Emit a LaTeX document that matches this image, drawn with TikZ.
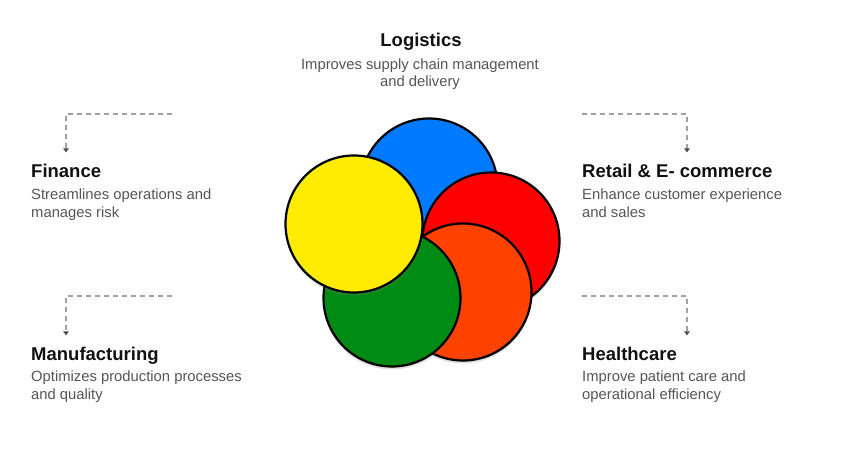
\documentclass[tikz,border=0pt]{standalone}
\usepackage{fontspec}
\setmainfont{Liberation Sans}
\usepackage{xcolor}
\usetikzlibrary{arrows.meta,positioning,shadows}

\definecolor{petalblue}{RGB}{0,122,255}
\definecolor{petalred}{RGB}{255,0,0}
\definecolor{petalorange}{RGB}{255,66,0}
\definecolor{petalgreen}{RGB}{0,140,20}
\definecolor{petalyellow}{RGB}{255,236,0}
\definecolor{headtext}{RGB}{17,17,17}
\definecolor{bodytext}{RGB}{85,85,85}
\definecolor{dashgray}{RGB}{160,160,160}

\begin{document}
\begin{tikzpicture}[x=1pt, y=1pt,
petal/.style={circle, draw=black, line width=2.2pt, minimum size=137pt, inner sep=0pt,
  drop shadow={shadow xshift=0pt, shadow yshift=-3pt, opacity=0.25}},
head/.style={font=\fontsize{18.5}{22}\selectfont\bfseries, text=headtext, inner sep=0pt},
desc/.style={font=\fontsize{14.8}{17.5}\selectfont, text=bodytext, inner sep=0pt},
link/.style={dashgray, line width=1.3pt, dash pattern=on 5pt off 4pt,
  -{Triangle[length=4pt, width=5.5pt, color=black!70]}}
]
\useasboundingbox (0,0) rectangle (843,448);

% petals, back to front
\node[petal, fill=petalblue] (blue) at (429,261) {};
\node[petal, fill=petalred] (red) at (491,207) {};
\node[petal, fill=petalorange] (orange) at (463,156) {};
\node[petal, fill=petalgreen] (green) at (392,150) {};
\node[petal, fill=petalyellow] (yellow) at (354,224) {};

% texts (desc nodes sit on the baseline of their last line)
\node[head, anchor=base] (log) at (421,401) {Logistics};
\node[desc, anchor=base, align=center] (logd) at (420,361) {Improves supply chain management\\and delivery};

\node[head, anchor=base west] (fin) at (31,271) {Finance};
\node[desc, anchor=base west, align=left] (find) at (31,231) {Streamlines operations and\\manages risk};

\node[head, anchor=base west] (ret) at (582,271) {Retail \& E- commerce};
\node[desc, anchor=base west, align=left] (retd) at (582,231) {Enhance customer experience\\and sales};

\node[head, anchor=base west] (man) at (31,88) {Manufacturing};
\node[desc, anchor=base west, align=left] (mand) at (31,49) {Optimizes production processes\\and quality};

\node[head, anchor=base west] (hea) at (582,88) {Healthcare};
\node[desc, anchor=base west, align=left] (head) at (582,49) {Improve patient care and\\operational efficiency};

% dashed pointers
\coordinate (finS) at (172,334);
\coordinate (retS) at (582,334);
\coordinate (manS) at (172,152);
\coordinate (heaS) at (582,152);
\draw[link] (finS) -| ([xshift=35pt, yshift=11pt]fin.north west);
\draw[link] (retS) -| ([xshift=105pt, yshift=11pt]ret.north west);
\draw[link] (manS) -| ([xshift=35pt, yshift=11pt]man.north west);
\draw[link] (heaS) -| ([xshift=105pt, yshift=11pt]hea.north west);
\end{tikzpicture}
\end{document}
